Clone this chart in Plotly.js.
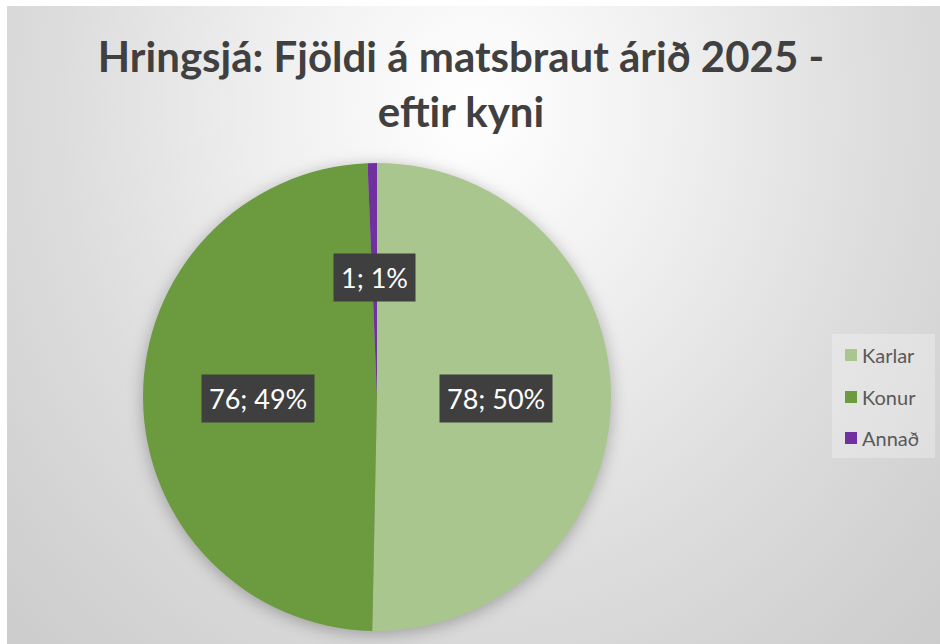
<!DOCTYPE html>
<html>
<head>
<meta charset="utf-8">
<script src="https://cdn.plot.ly/plotly-3.0.1.min.js"></script>
<style>
  html, body { margin: 0; padding: 0; background: #ffffff; }
  #wrap { position: relative; width: 940px; height: 644px; overflow: hidden; background: #ffffff; }
  #bg { position: absolute; left: 7px; top: 6px; right: 0; bottom: 0;
        background: radial-gradient(ellipse farthest-corner at 50% 16%, #ffffff 0%, #f1f1f1 28%, #dddddd 62%, #d2d2d2 85%, #cccccc 100%); }
  #chart { position: absolute; left: 0; top: 0; width: 940px; height: 644px; }
  .pielayer { filter: drop-shadow(0px 3px 8px rgba(0,0,0,0.28)); }
</style>
</head>
<body>
<div id="wrap"><div id="bg"></div><div id="chart"></div></div>
<script>
// Data
const labels = ["Karlar", "Konur", "Annað"];
const values = [78, 76, 1];
const colors = ["#a8c68e", "#6b9b3e", "#7030a0"];
const titleText = "Hringsjá: Fjöldi á matsbraut árið 2025 -<br>eftir kyni";

// Geometry (pixels)
const W = 940, H = 644;
const cx = 377, cy = 397, R = 234;
const labelFrac = 0.51;

const total = values.reduce((a, b) => a + b, 0);

const trace = {
  type: "pie",
  labels: labels,
  values: values,
  sort: false,
  direction: "clockwise",
  rotation: 0,
  marker: { colors: colors, line: { width: 0 } },
  textinfo: "none",
  hovertemplate: "%{label}: %{value} (%{percent})<extra></extra>",
  showlegend: false,
  domain: { x: [(cx - R) / W, (cx + R) / W], y: [(H - cy - R) / H, (H - cy + R) / H] }
};

const annotations = [];
const shapes = [];
let cum = 0;
values.forEach((v, i) => {
  const mid = (cum + v / 2) / total * 2 * Math.PI;
  cum += v;
  const px = cx + labelFrac * R * Math.sin(mid);
  const py = cy - labelFrac * R * Math.cos(mid);
  const pct = Math.round(v / total * 100);
  annotations.push({
    xref: "paper", yref: "paper",
    x: px / W, y: 1 - py / H,
    xanchor: "center", yanchor: "middle",
    text: v + "; " + pct + "%",
    showarrow: false,
    bgcolor: "#3f3f3f",
    borderpad: 7,
    font: { family: "Lato, 'Open Sans', sans-serif", size: 27, color: "#ffffff" }
  });
});

// Manual legend
const legX0 = 832, legX1 = 935, legY0 = 334, legY1 = 458;
shapes.push({
  type: "rect", xref: "paper", yref: "paper",
  x0: legX0 / W, x1: legX1 / W, y0: 1 - legY1 / H, y1: 1 - legY0 / H,
  fillcolor: "rgba(255,255,255,0.28)", line: { width: 0 }, layer: "below"
});
const legItemY = [355, 397, 438];
labels.forEach((lab, i) => {
  const yy = legItemY[i];
  shapes.push({
    type: "rect", xref: "paper", yref: "paper",
    x0: 845 / W, x1: 857 / W, y0: 1 - (yy + 6) / H, y1: 1 - (yy - 6) / H,
    fillcolor: colors[i], line: { width: 0 }
  });
  annotations.push({
    xref: "paper", yref: "paper",
    x: 860 / W, y: 1 - yy / H,
    xanchor: "left", yanchor: "middle",
    text: lab, showarrow: false,
    font: { family: "Lato, 'Open Sans', sans-serif", size: 20, color: "#595959" }
  });
});

const layout = {
  width: W, height: H,
  margin: { l: 0, r: 0, t: 0, b: 0 },
  paper_bgcolor: "rgba(0,0,0,0)",
  plot_bgcolor: "rgba(0,0,0,0)",
  title: {
    text: titleText,
    x: 461 / W, xanchor: "center", xref: "paper",
    y: 1 - 72 / H, yanchor: "top", yref: "container",
    font: { family: "Lato, 'Open Sans', sans-serif", size: 42, color: "#404040", weight: "bold" }
  },
  annotations: annotations,
  shapes: shapes,
  showlegend: false
};

Plotly.newPlot("chart", [trace], layout, { displayModeBar: false, staticPlot: true });
</script>
</body>
</html>
